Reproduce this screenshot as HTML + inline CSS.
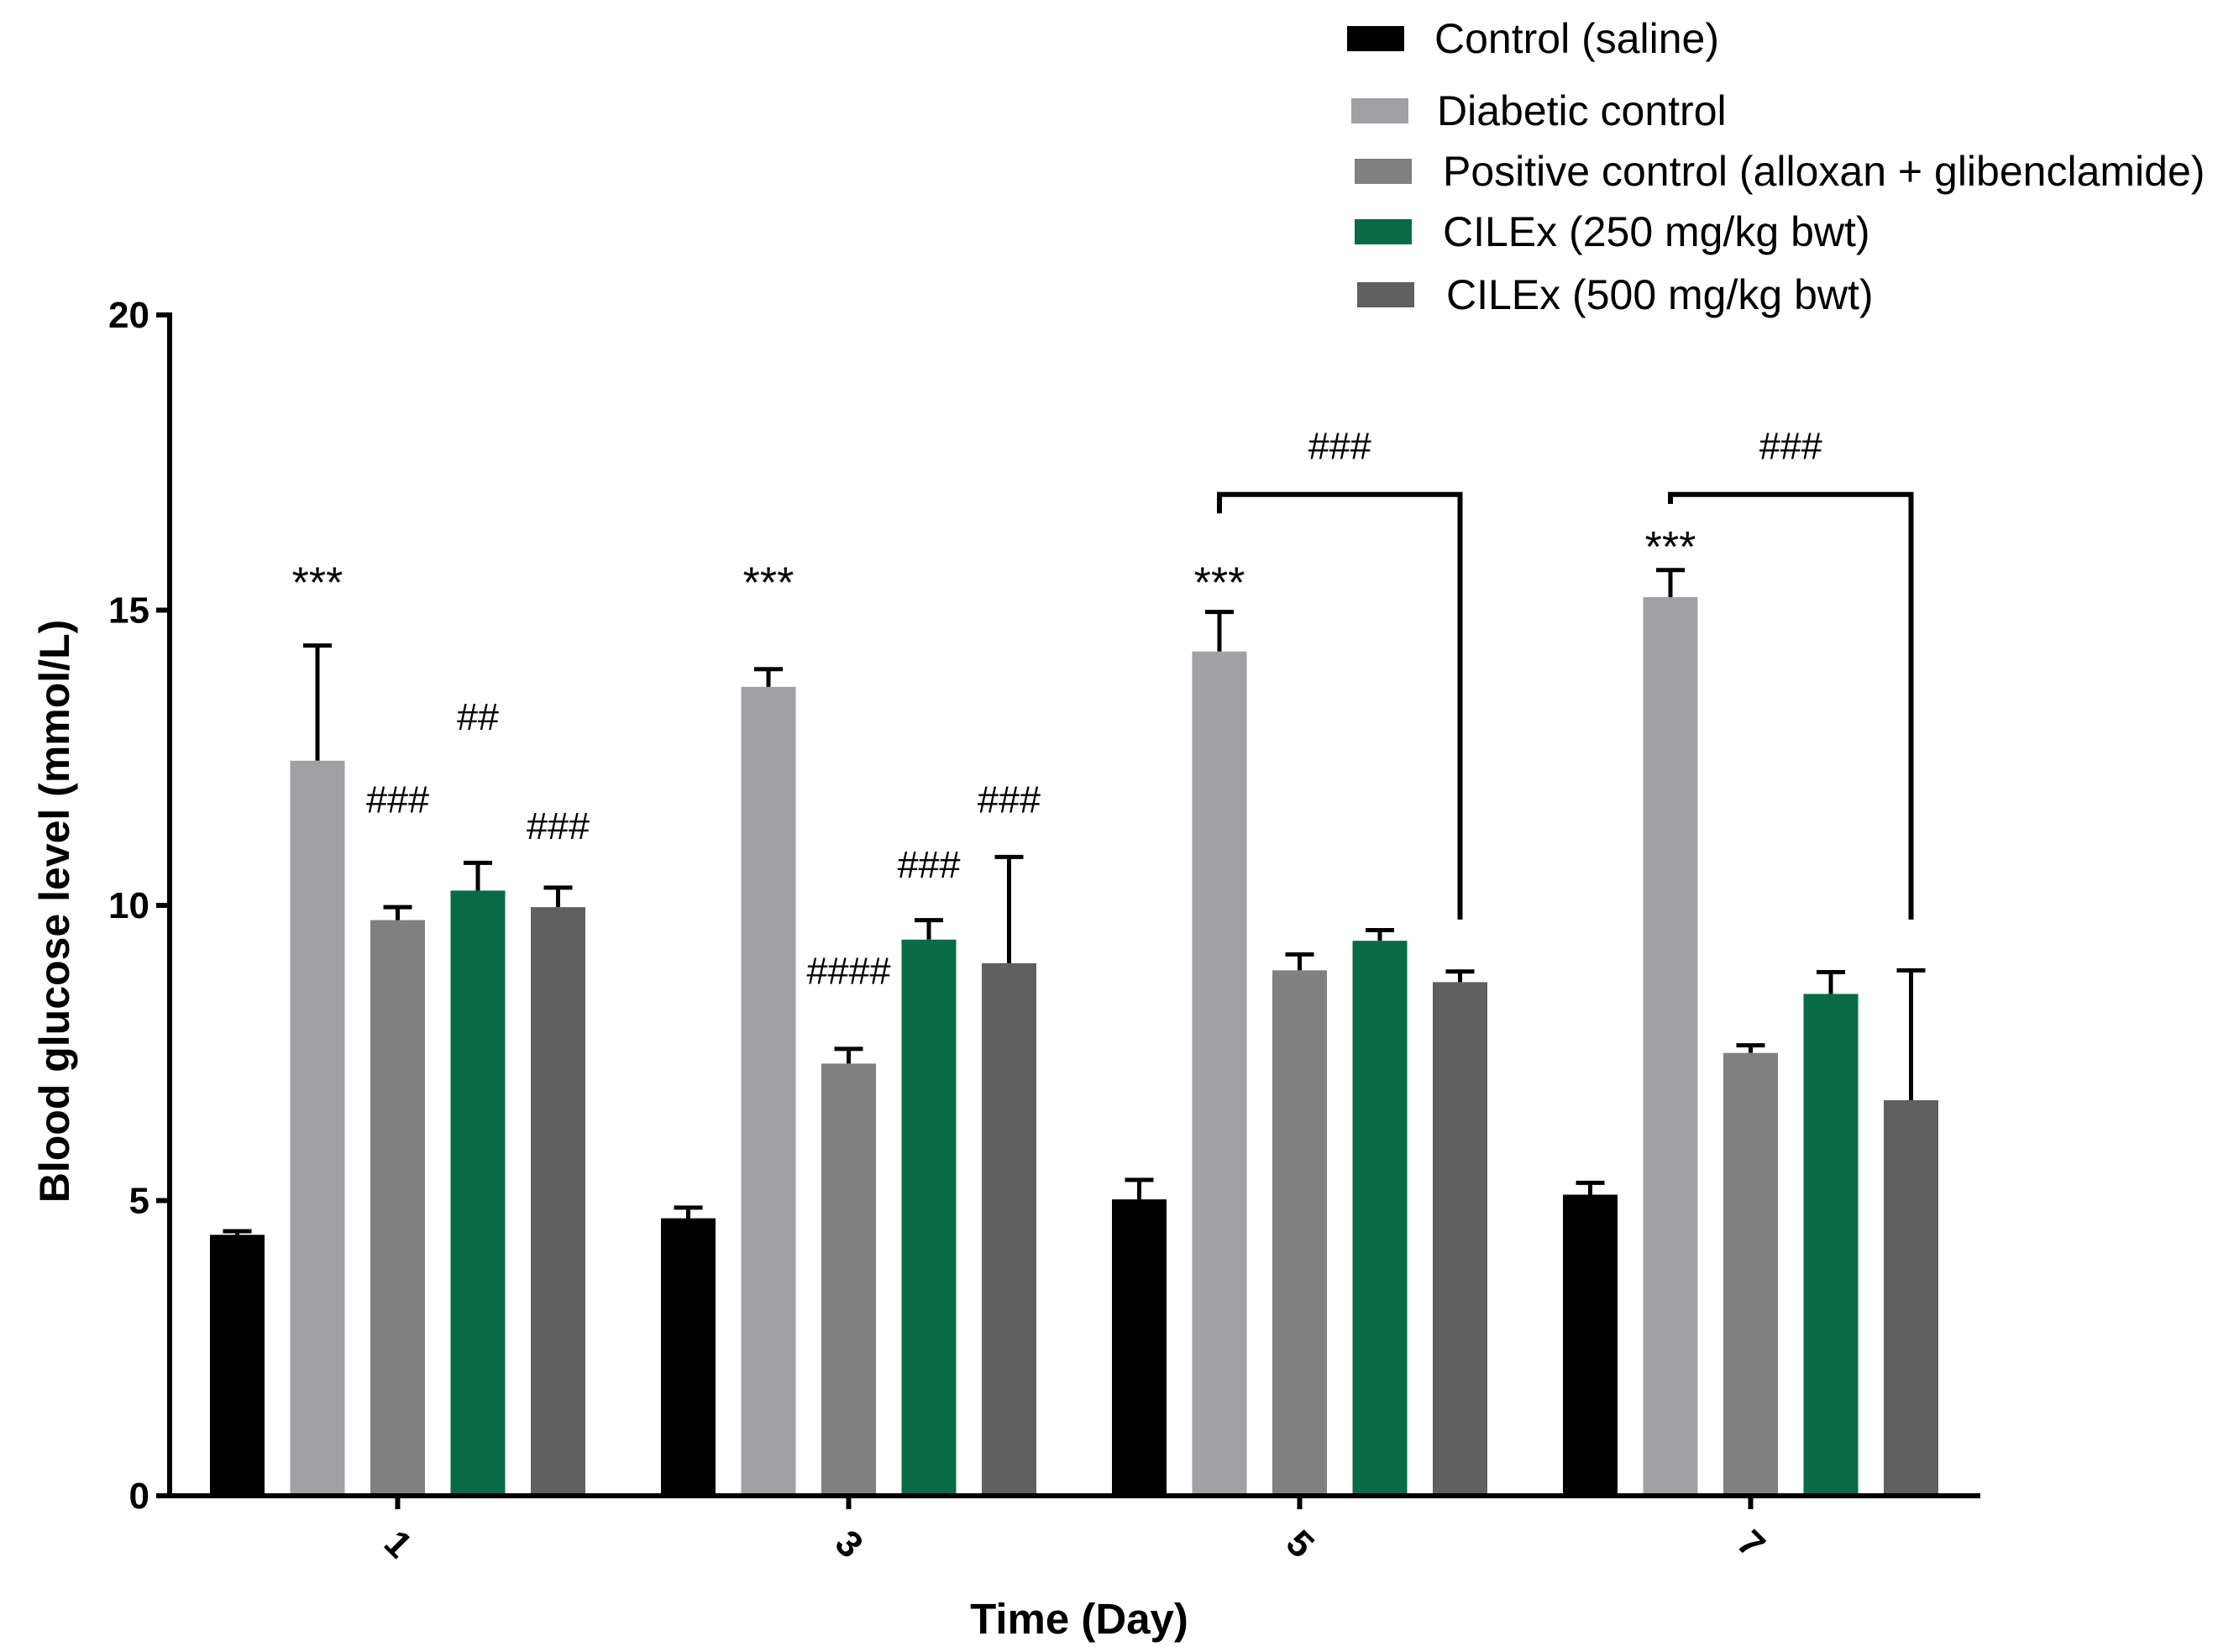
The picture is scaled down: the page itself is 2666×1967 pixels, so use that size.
<!DOCTYPE html>
<html><head><meta charset="utf-8"><style>
html,body{margin:0;padding:0;background:#fff;}
svg{display:block;font-family:"Liberation Sans",Arial,sans-serif;}
</style></head><body>
<svg id="chart" width="2666" height="1967" viewBox="0 0 2666 1967" xmlns="http://www.w3.org/2000/svg">
<g id="legend"></g>
<g id="plot"></g>
</svg>
<script>
const days = ["1","3","5","7"];
const seriesNames = ["Control (saline)","Diabetic control","Positive control (alloxan + glibenclamide)","CILEx (250 mg/kg bwt)","CILEx (500 mg/kg bwt)"];
const seriesColors = ["#000000","#a1a1a5","#808080","#086b45","#606060"];
const control = [4.42,4.7,5.02,5.1];
const diabetic = [12.45,13.7,14.3,15.22];
const positive = [9.75,7.32,8.9,7.5];
const cilex250 = [10.25,9.42,9.4,8.5];
const cilex500 = [9.97,9.02,8.7,6.7];
const controlTop = [4.48,4.88,5.35,5.3];
const diabeticTop = [14.4,14.0,14.97,15.68];
const positiveTop = [9.97,7.57,9.17,7.63];
const cilex250Top = [10.72,9.75,9.58,8.87];
const cilex500Top = [10.3,10.82,8.88,8.9];
const yTicks = [0,5,10,15,20];
// annotations: [groupIndex, seriesIndex, value, text]
const annotations = [[0,1,15.5,"***"],[0,2,11.8,"###"],[0,3,13.2,"##"],[0,4,11.35,"###"],
 [1,1,15.5,"***"],[1,2,8.9,"####"],[1,3,10.7,"###"],[1,4,11.8,"###"],
 [2,1,15.5,"***"],[3,1,16.1,"***"]];
// brackets: [group, fromSeries, toSeries, leftEnd, top, rightEnd]
const brackets = [[2,1,4,16.64,16.96,9.76],[3,1,4,16.8,16.96,9.76]];

const NS="http://www.w3.org/2000/svg";
const X0=202, Y0=1781, Y20=375, XEND=2358;
const BW=65, STEP=95.5, GSTEP=537, G0=250;
const y = v => Y0 - (v/20)*(Y0-Y20);
const barX = (g,s) => G0 + g*GSTEP + s*STEP;
const groupCenter = g => barX(g,0) + (4*STEP+BW)/2;
const plot=document.getElementById('plot'), legend=document.getElementById('legend');
function mk(tag,attrs,parent,text){const e=document.createElementNS(NS,tag);for(const k in attrs)e.setAttribute(k,attrs[k]);if(text!==undefined)e.textContent=text;parent.appendChild(e);return e;}
const vals=[control,diabetic,positive,cilex250,cilex500];
const tops=[controlTop,diabeticTop,positiveTop,cilex250Top,cilex500Top];
for(let s=0;s<5;s++){for(let g=0;g<days.length;g++){
 const x=barX(g,s), cx=x+BW/2;
 const et=mk('line',{x1:cx,x2:cx,y1:y(vals[s][g]),y2:y(tops[s][g]),stroke:'#000','stroke-width':5},plot);
 
 
 const ec=mk('line',{x1:cx-17,x2:cx+17,y1:y(tops[s][g]),y2:y(tops[s][g]),stroke:'#000','stroke-width':5},plot);
 
 
 const r=mk('rect',{x:x,y:y(vals[s][g]),width:BW,height:Y0-y(vals[s][g]),fill:seriesColors[s]},plot);
 
 
}}
// axes
const ya=mk('line',{x1:X0,x2:X0,y1:Y20-3,y2:Y0+3,stroke:'#000','stroke-width':6},plot);


const xa=mk('line',{x1:X0-3,x2:XEND,y1:Y0,y2:Y0,stroke:'#000','stroke-width':6},plot);


yTicks.forEach(t=>{
 const l=mk('line',{x1:X0-16,x2:X0,y1:y(t),y2:y(t),stroke:'#000','stroke-width':6},plot);
 
 
 const tx=mk('text',{x:X0-24,y:y(t)+15,'text-anchor':'end','font-size':44,'font-weight':'bold'},plot,String(t));
 
 
});
days.forEach((d,g)=>{
 const cx=groupCenter(g);
 const l=mk('line',{x1:cx,x2:cx,y1:Y0,y2:Y0+16,stroke:'#000','stroke-width':6},plot);
 
 
 const tx=mk('text',{x:cx,y:Y0+72,'text-anchor':'middle','font-size':44,'font-weight':'bold',transform:`rotate(45 ${cx} ${Y0+58})`},plot,d);
 
 
});
const yt=mk('text',{x:0,y:0,'text-anchor':'middle','font-size':50,'font-weight':'bold',transform:'translate(82 1085) rotate(-90)'},plot,'Blood glucose level (mmol/L)');


const xt=mk('text',{x:1285,y:1945,'text-anchor':'middle','font-size':51,'font-weight':'bold'},plot,'Time (Day)');


annotations.forEach(a=>{
 const cx=barX(a[0],a[1])+BW/2;
 const isStar=a[3].charAt(0)==='*';
 const tx=mk('text',{x:cx,y:y(a[2])+(isStar?20:16),'text-anchor':'middle','font-size':isStar?52:45},plot,a[3]);
 
 
});
brackets.forEach(b=>{
 const x1=barX(b[0],b[1])+BW/2, x2=barX(b[0],b[2])+BW/2;
 const p=mk('polyline',{points:`${x1},${y(b[3])} ${x1},${y(b[4])} ${x2},${y(b[4])} ${x2},${y(b[5])}`,fill:'none',stroke:'#000','stroke-width':6},plot);
 
 
 const tx=mk('text',{x:(x1+x2)/2,y:y(b[4])-42,'text-anchor':'middle','font-size':45},plot,'###');
 
 
});
// legend
const legY=[46,132,204,276,351], legSq=[1604,1609,1613,1613,1616], legTx=[1708,1711,1718,1718,1722];
seriesNames.forEach((n,i)=>{
 const r=mk('rect',{x:legSq[i],y:legY[i]-15,width:68,height:30,fill:seriesColors[i]},legend);
 
 
 const t=mk('text',{x:legTx[i],y:legY[i]+17,'font-size':50},legend,n);
 
 
});
</script>
</body></html>
